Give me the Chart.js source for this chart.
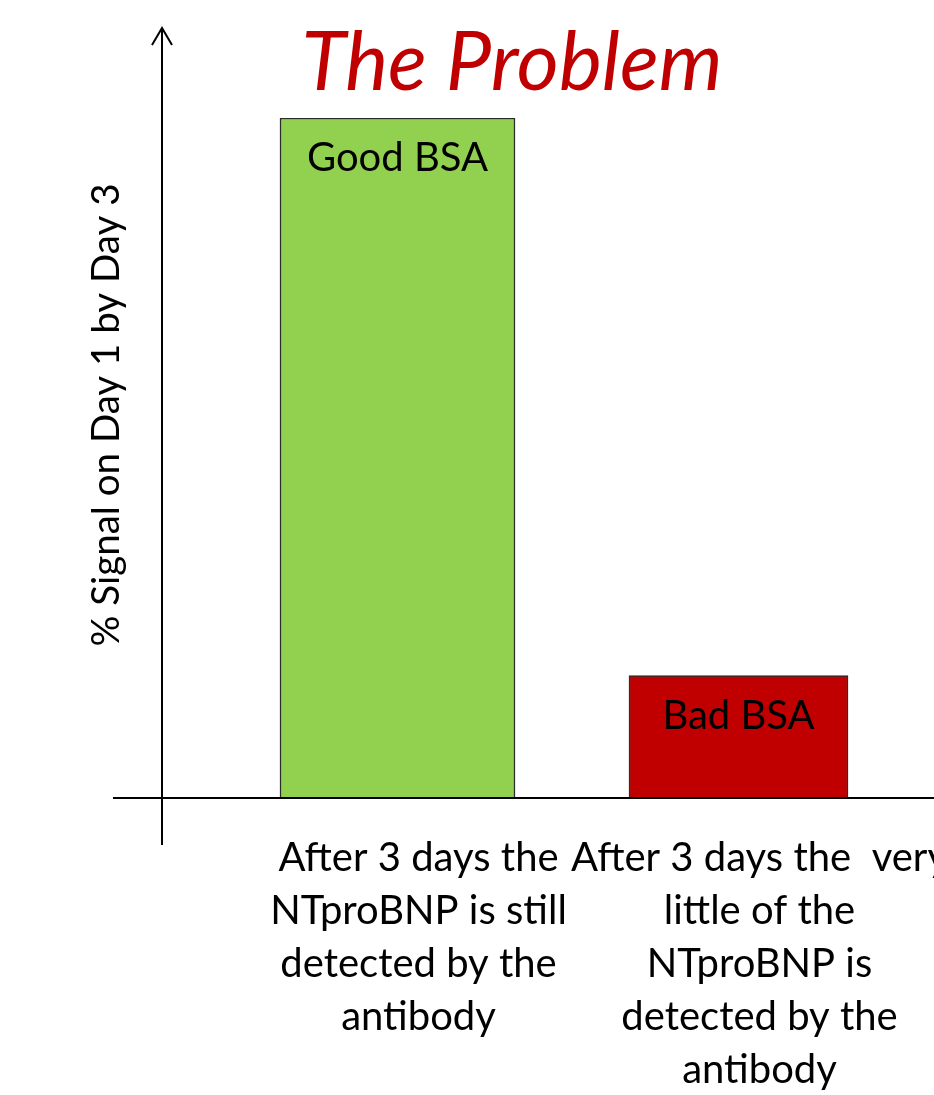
<!DOCTYPE html>
<html>
<head>
<meta charset="utf-8">
<script src="https://cdn.jsdelivr.net/npm/chart.js@4/dist/chart.umd.min.js"></script>
<style>
html, body { margin: 0; padding: 0; background: #fff; }
</style>
</head>
<body>
<canvas id="problem-chart" width="934" height="1095"></canvas>
<script>
// categories (x tick labels, already wrapped like the slide)
const categories = [
    ['After 3 days the', 'NTproBNP is still', 'detected by the', 'antibody'],
    ['After 3 days the  very', 'little of the', 'NTproBNP is', 'detected by the', 'antibody']
];
const barNames = ['Good BSA', 'Bad BSA'];
// % signal on day 1 by day 3
const goodSignal = [100, null];
const badSignal = [null, 18];

const FONT = 'Lato';

// axis arrow, title and labels inside the bars
const slideBits = {
    id: 'slideBits',
    afterDraw(chart) {
        const ctx = chart.ctx;
        const y0 = chart.scales.y.getPixelForValue(0);
        ctx.save();
        ctx.strokeStyle = '#000';
        ctx.lineWidth = 2;
        ctx.beginPath();
        ctx.moveTo(113, y0);
        ctx.lineTo(chart.width, y0);
        ctx.stroke();
        ctx.beginPath();
        ctx.moveTo(162, y0 + 47);
        ctx.lineTo(162, 28);
        ctx.stroke();
        ctx.beginPath();
        ctx.moveTo(152, 45);
        ctx.lineTo(162, 28);
        ctx.lineTo(172, 45);
        ctx.stroke();

        ctx.fillStyle = '#000';
        ctx.textAlign = 'center';
        ctx.textBaseline = 'middle';
        ctx.font = '40px ' + FONT;
        chart.data.datasets.forEach((ds, d) => {
            const meta = chart.getDatasetMeta(d);
            ds.data.forEach((v, i) => {
                if (v === null) return;
                const bar = meta.data[i];
                ctx.fillText(barNames[d], bar.x, bar.y + 40);
            });
        });

        // y axis title
        ctx.save();
        ctx.font = '38.5px ' + FONT;
        ctx.translate(107, 415);
        ctx.rotate(-Math.PI / 2);
        ctx.fillText('% Signal on Day 1 by Day 3', 0, 0);
        ctx.restore();

        // slide title
        ctx.fillStyle = '#C00000';
        ctx.textBaseline = 'alphabetic';
        ctx.font = 'italic 81px ' + FONT;
        ctx.fillText('The Problem', 512, 90);
        ctx.restore();
    }
};

const canvas = document.getElementById('problem-chart');
const ctx = canvas.getContext('2d');

var chart = new Chart(ctx, {
    type: 'bar',
    data: {
        labels: categories,
        datasets: [
            {
                label: barNames[0],
                data: goodSignal,
                backgroundColor: '#92D050',
                borderColor: '#2b2b2b',
                borderWidth: 1.5,
                barThickness: 235,
            },
            {
                label: barNames[1],
                data: badSignal,
                backgroundColor: '#C00000',
                borderColor: '#2b2b2b',
                borderWidth: 1.5,
                barThickness: 219,
            },
        ],
    },
    options: {
        responsive: false,
        animation: false,
        grouped: false,
        skipNull: true,
        layout: { padding: { top: 118, left: 227, right: 25, bottom: -35 } },
        plugins: {
            legend: { display: false },
            tooltip: { enabled: false },
        },
        scales: {
            x: {
                grid: { display: false, drawTicks: false },
                border: { display: false },
                // the long last label runs off the slide, don't squeeze the plot for it
                afterFit: (scale) => {
                    scale.paddingLeft = 0;
                    scale.paddingRight = 0;
                },
                ticks: {
                    color: '#000',
                    font: { family: FONT, size: 40, lineHeight: 1.33 },
                    padding: 33,
                    labelOffset: 21,
                    maxRotation: 0,
                    minRotation: 0,
                    autoSkip: false,
                },
            },
            y: {
                display: false,
                min: 0,
                max: 100,
            },
        },
    },
    plugins: [slideBits],
});
</script>
</body>
</html>
